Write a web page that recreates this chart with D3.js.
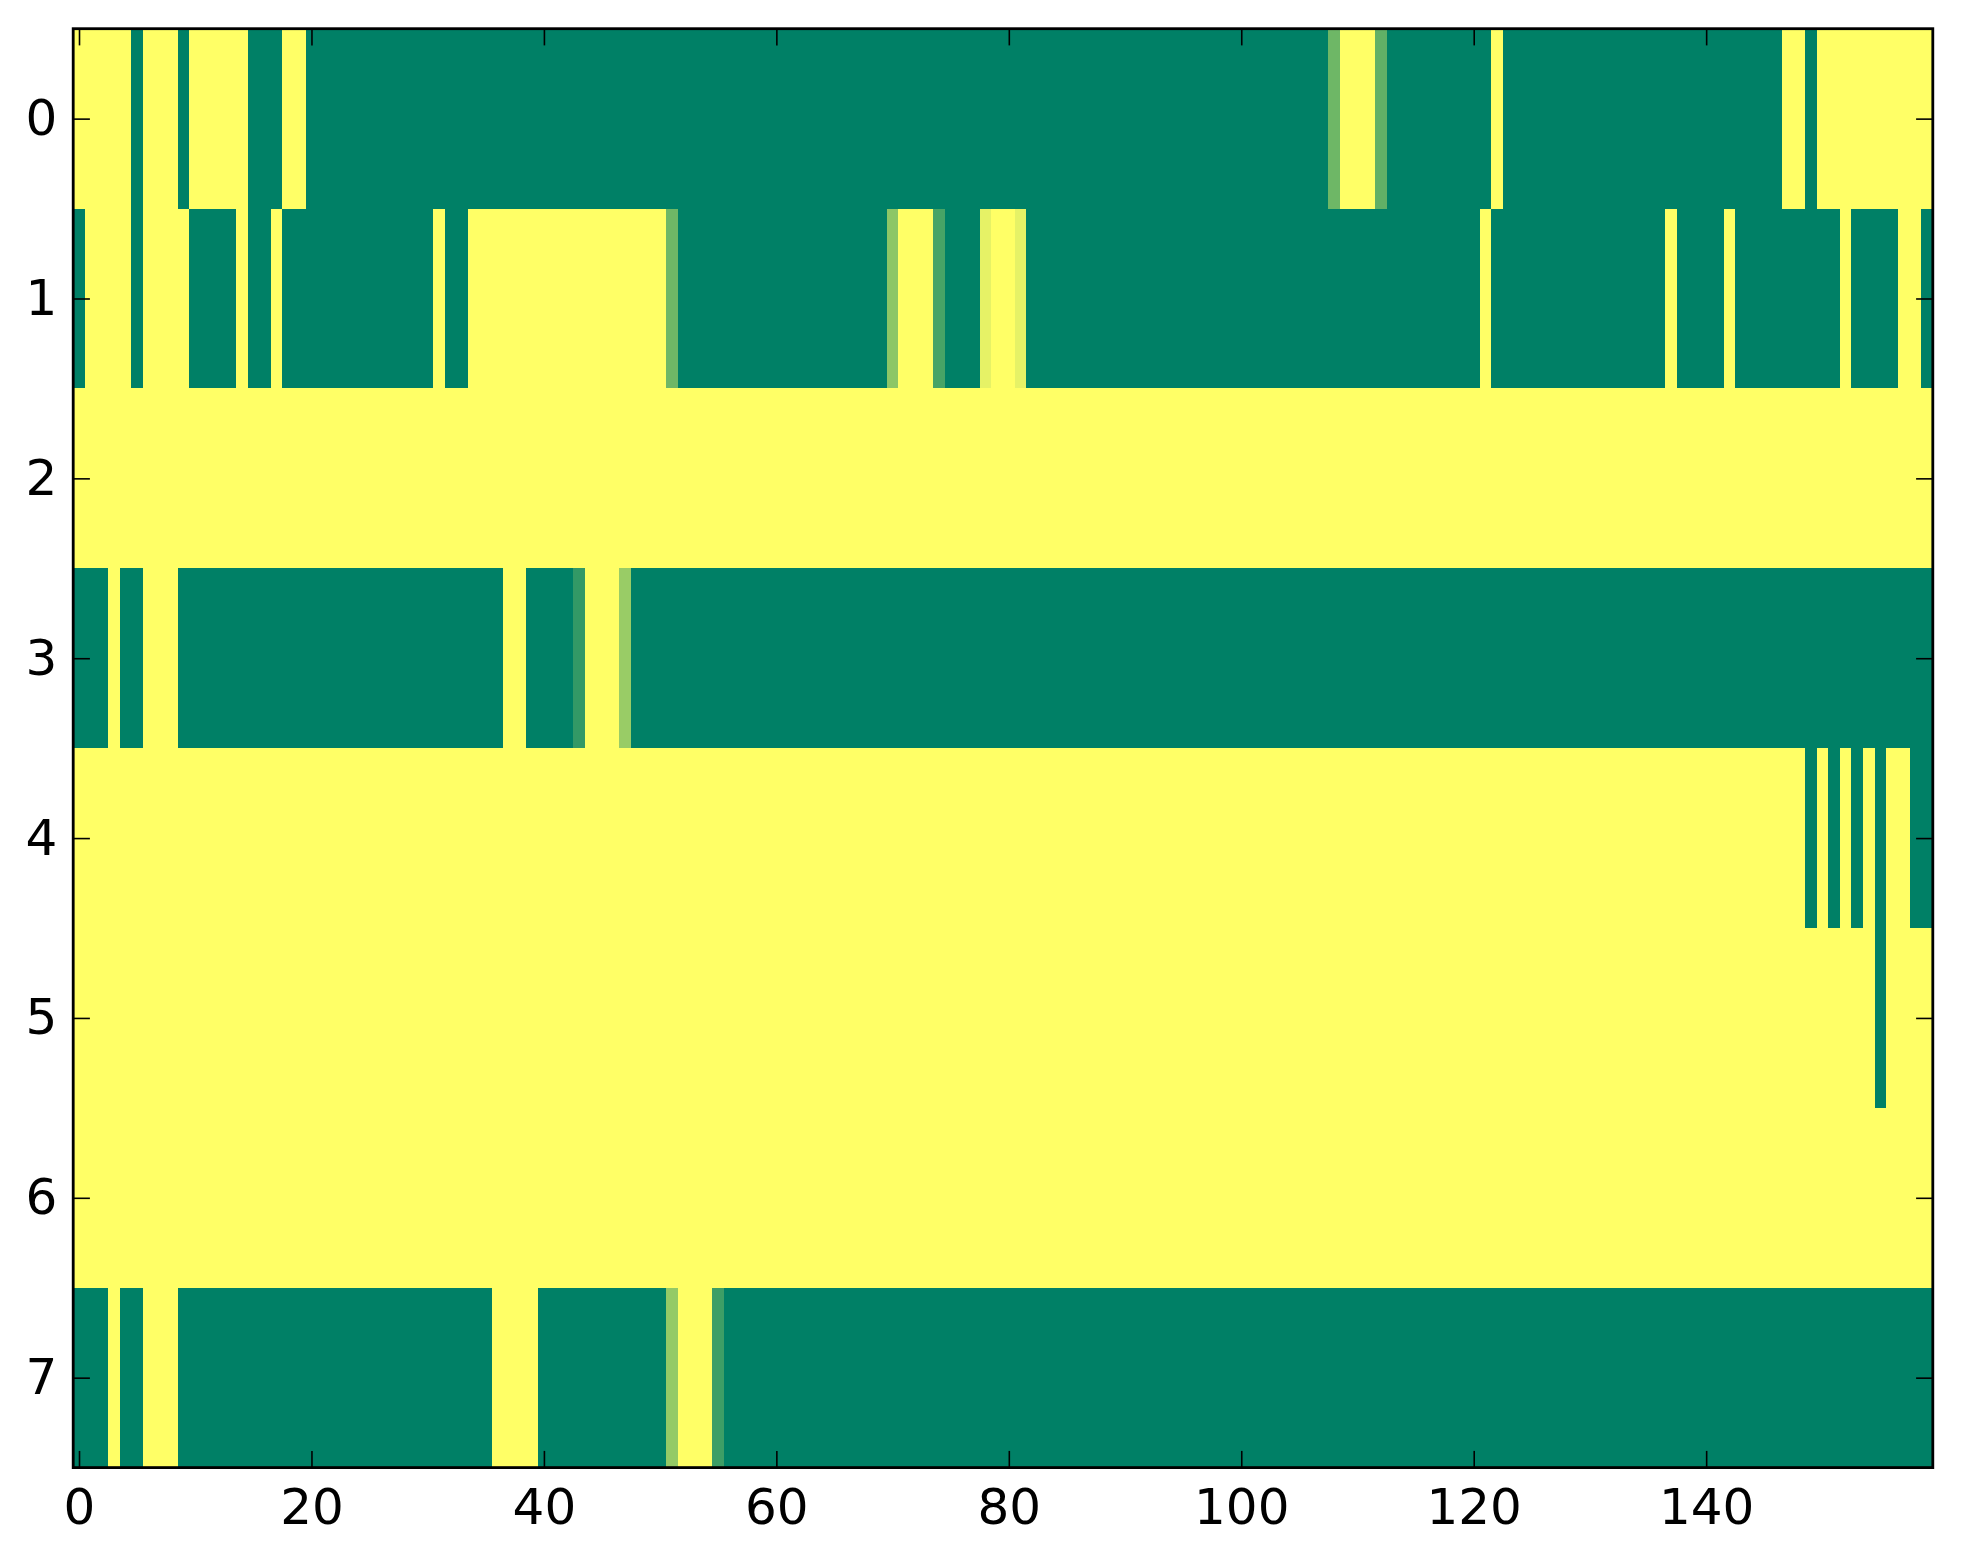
<!DOCTYPE html>
<html>
<head>
<meta charset="utf-8">
<script src="https://cdn.jsdelivr.net/npm/d3@7"></script>
<style>
  html, body { margin: 0; padding: 0; background: #fff; }
  svg { display: block; }
</style>
</head>
<body>
<div id="graph"></div>
<script>
// one array per image row, 160 columns each (0 = dark green, 1 = yellow)
var row0 = [
  1,1,1,1,1,0,1,1,1,0,1,1,1,1,1,0,0,0,1,1,
  0,0,0,0,0,0,0,0,0,0,0,0,0,0,0,0,0,0,0,0,
  0,0,0,0,0,0,0,0,0,0,0,0,0,0,0,0,0,0,0,0,
  0,0,0,0,0,0,0,0,0,0,0,0,0,0,0,0,0,0,0,0,
  0,0,0,0,0,0,0,0,0,0,0,0,0,0,0,0,0,0,0,0,
  0,0,0,0,0,0,0,0,0.43,1,1,1,0.38,0,0,0,0,0,0,0,
  0,0,1,0,0,0,0,0,0,0,0,0,0,0,0,0,0,0,0,0,
  0,0,0,0,0,0,0,1,1,0,1,1,1,1,1,1,1,1,1,1
];
var row1 = [
  0,1,1,1,1,0,1,1,1,1,0,0,0,0,1,0,0,1,0,0,
  0,0,0,0,0,0,0,0,0,0,0,1,0,0,1,1,1,1,1,1,
  1,1,1,1,1,1,1,1,1,1,1,0.43,0,0,0,0,0,0,0,0,
  0,0,0,0,0,0,0,0,0,0,0.55,1,1,1,0.28,0,0,0,0.9,1,
  1,0.9,0,0,0,0,0,0,0,0,0,0,0,0,0,0,0,0,0,0,
  0,0,0,0,0,0,0,0,0,0,0,0,0,0,0,0,0,0,0,0,
  0,1,0,0,0,0,0,0,0,0,0,0,0,0,0,0,0,1,0,0,
  0,0,1,0,0,0,0,0,0,0,0,0,1,0,0,0,0,1,1,0
];
var row2 = [
  1,1,1,1,1,1,1,1,1,1,1,1,1,1,1,1,1,1,1,1,
  1,1,1,1,1,1,1,1,1,1,1,1,1,1,1,1,1,1,1,1,
  1,1,1,1,1,1,1,1,1,1,1,1,1,1,1,1,1,1,1,1,
  1,1,1,1,1,1,1,1,1,1,1,1,1,1,1,1,1,1,1,1,
  1,1,1,1,1,1,1,1,1,1,1,1,1,1,1,1,1,1,1,1,
  1,1,1,1,1,1,1,1,1,1,1,1,1,1,1,1,1,1,1,1,
  1,1,1,1,1,1,1,1,1,1,1,1,1,1,1,1,1,1,1,1,
  1,1,1,1,1,1,1,1,1,1,1,1,1,1,1,1,1,1,1,1
];
var row3 = [
  0,0,0,1,0,0,1,1,1,0,0,0,0,0,0,0,0,0,0,0,
  0,0,0,0,0,0,0,0,0,0,0,0,0,0,0,0,0,1,1,0,
  0,0,0,0.2,1,1,1,0.6,0,0,0,0,0,0,0,0,0,0,0,0,
  0,0,0,0,0,0,0,0,0,0,0,0,0,0,0,0,0,0,0,0,
  0,0,0,0,0,0,0,0,0,0,0,0,0,0,0,0,0,0,0,0,
  0,0,0,0,0,0,0,0,0,0,0,0,0,0,0,0,0,0,0,0,
  0,0,0,0,0,0,0,0,0,0,0,0,0,0,0,0,0,0,0,0,
  0,0,0,0,0,0,0,0,0,0,0,0,0,0,0,0,0,0,0,0
];
var row4 = [
  1,1,1,1,1,1,1,1,1,1,1,1,1,1,1,1,1,1,1,1,
  1,1,1,1,1,1,1,1,1,1,1,1,1,1,1,1,1,1,1,1,
  1,1,1,1,1,1,1,1,1,1,1,1,1,1,1,1,1,1,1,1,
  1,1,1,1,1,1,1,1,1,1,1,1,1,1,1,1,1,1,1,1,
  1,1,1,1,1,1,1,1,1,1,1,1,1,1,1,1,1,1,1,1,
  1,1,1,1,1,1,1,1,1,1,1,1,1,1,1,1,1,1,1,1,
  1,1,1,1,1,1,1,1,1,1,1,1,1,1,1,1,1,1,1,1,
  1,1,1,1,1,1,1,1,1,0,1,0,1,0,1,0,1,1,0,0
];
var row5 = [
  1,1,1,1,1,1,1,1,1,1,1,1,1,1,1,1,1,1,1,1,
  1,1,1,1,1,1,1,1,1,1,1,1,1,1,1,1,1,1,1,1,
  1,1,1,1,1,1,1,1,1,1,1,1,1,1,1,1,1,1,1,1,
  1,1,1,1,1,1,1,1,1,1,1,1,1,1,1,1,1,1,1,1,
  1,1,1,1,1,1,1,1,1,1,1,1,1,1,1,1,1,1,1,1,
  1,1,1,1,1,1,1,1,1,1,1,1,1,1,1,1,1,1,1,1,
  1,1,1,1,1,1,1,1,1,1,1,1,1,1,1,1,1,1,1,1,
  1,1,1,1,1,1,1,1,1,1,1,1,1,1,1,0,1,1,1,1
];
var row6 = [
  1,1,1,1,1,1,1,1,1,1,1,1,1,1,1,1,1,1,1,1,
  1,1,1,1,1,1,1,1,1,1,1,1,1,1,1,1,1,1,1,1,
  1,1,1,1,1,1,1,1,1,1,1,1,1,1,1,1,1,1,1,1,
  1,1,1,1,1,1,1,1,1,1,1,1,1,1,1,1,1,1,1,1,
  1,1,1,1,1,1,1,1,1,1,1,1,1,1,1,1,1,1,1,1,
  1,1,1,1,1,1,1,1,1,1,1,1,1,1,1,1,1,1,1,1,
  1,1,1,1,1,1,1,1,1,1,1,1,1,1,1,1,1,1,1,1,
  1,1,1,1,1,1,1,1,1,1,1,1,1,1,1,1,1,1,1,1
];
var row7 = [
  0,0,0,1,0,0,1,1,1,0,0,0,0,0,0,0,0,0,0,0,
  0,0,0,0,0,0,0,0,0,0,0,0,0,0,0,0,1,1,1,1,
  0,0,0,0,0,0,0,0,0,0,0,0.58,1,1,1,0.24,0,0,0,0,
  0,0,0,0,0,0,0,0,0,0,0,0,0,0,0,0,0,0,0,0,
  0,0,0,0,0,0,0,0,0,0,0,0,0,0,0,0,0,0,0,0,
  0,0,0,0,0,0,0,0,0,0,0,0,0,0,0,0,0,0,0,0,
  0,0,0,0,0,0,0,0,0,0,0,0,0,0,0,0,0,0,0,0,
  0,0,0,0,0,0,0,0,0,0,0,0,0,0,0,0,0,0,0,0
];
var rows = [row0, row1, row2, row3, row4, row5, row6, row7];

var xTicks = [0, 20, 40, 60, 80, 100, 120, 140];
var yTicks = [0, 1, 2, 3, 4, 5, 6, 7];

drawGraph(rows);

function drawGraph(data) {
  var W = 1963, H = 1564;
  var margin = { top: 28.7, right: 30.2, bottom: 96.4, left: 73.2 },
    width = W - margin.left - margin.right,
    height = H - margin.top - margin.bottom;

  var svg = d3.select("#graph")
    .append("svg")
    .attr("width", W)
    .attr("height", H)
    .append("g")
    .attr("transform", "translate(" + margin.left + "," + margin.top + ")");

  var nCols = data[0].length, nRows = data.length;

  // imshow style: pixel centres on integers
  var x = d3.scaleLinear().domain([-0.5, nCols - 0.5]).range([0, width]);
  var y = d3.scaleLinear().domain([-0.5, nRows - 0.5]).range([0, height]);

  // matplotlib "summer" colormap
  var color = d3.scaleLinear().domain([0, 1]).range(["#008066", "#ffff66"]);

  var cells = [];
  data.forEach(function(r, i) {
    r.forEach(function(v, j) { cells.push({ row: i, col: j, value: v }); });
  });

  svg.append("g")
    .attr("shape-rendering", "crispEdges")
    .selectAll("rect")
    .data(cells)
    .enter().append("rect")
    .attr("x", d => x(d.col - 0.5))
    .attr("y", d => y(d.row - 0.5))
    .attr("width", d => x(d.col + 0.5) - x(d.col - 0.5))
    .attr("height", d => y(d.row + 0.5) - y(d.row - 0.5))
    .attr("fill", d => color(d.value));

  var tickLen = 16.7;

  // bottom axis with labels, ticks pointing inward
  var xAxis = d3.axisBottom(x).tickValues(xTicks).tickSizeInner(-tickLen).tickSizeOuter(0).tickPadding(21);
  var gx = svg.append("g")
    .attr("class", "x axis")
    .attr("transform", "translate(0," + height + ")")
    .call(xAxis);

  // top axis, ticks only
  var gxt = svg.append("g")
    .attr("class", "x axis top")
    .call(d3.axisTop(x).tickValues(xTicks).tickSizeInner(-tickLen).tickSizeOuter(0).tickFormat(""));

  var yAxis = d3.axisLeft(y).tickValues(yTicks).tickSizeInner(-tickLen).tickSizeOuter(0).tickPadding(16);
  var gy = svg.append("g")
    .attr("class", "y axis")
    .call(yAxis);

  var gyr = svg.append("g")
    .attr("class", "y axis right")
    .attr("transform", "translate(" + width + ",0)")
    .call(d3.axisRight(y).tickValues(yTicks).tickSizeInner(-tickLen).tickSizeOuter(0).tickFormat(""));

  svg.selectAll(".axis path.domain").remove();
  svg.selectAll(".axis line").attr("stroke", "#000").attr("stroke-width", 1.6);
  svg.selectAll(".axis text")
    .attr("fill", "#000")
    .style("font-family", "'DejaVu Sans', sans-serif")
    .style("font-size", "50px");

  // frame
  svg.append("rect")
    .attr("x", 0)
    .attr("y", 0)
    .attr("width", width)
    .attr("height", height)
    .attr("fill", "none")
    .attr("stroke", "#000")
    .attr("stroke-width", 2.8);
}
</script>
</body>
</html>
